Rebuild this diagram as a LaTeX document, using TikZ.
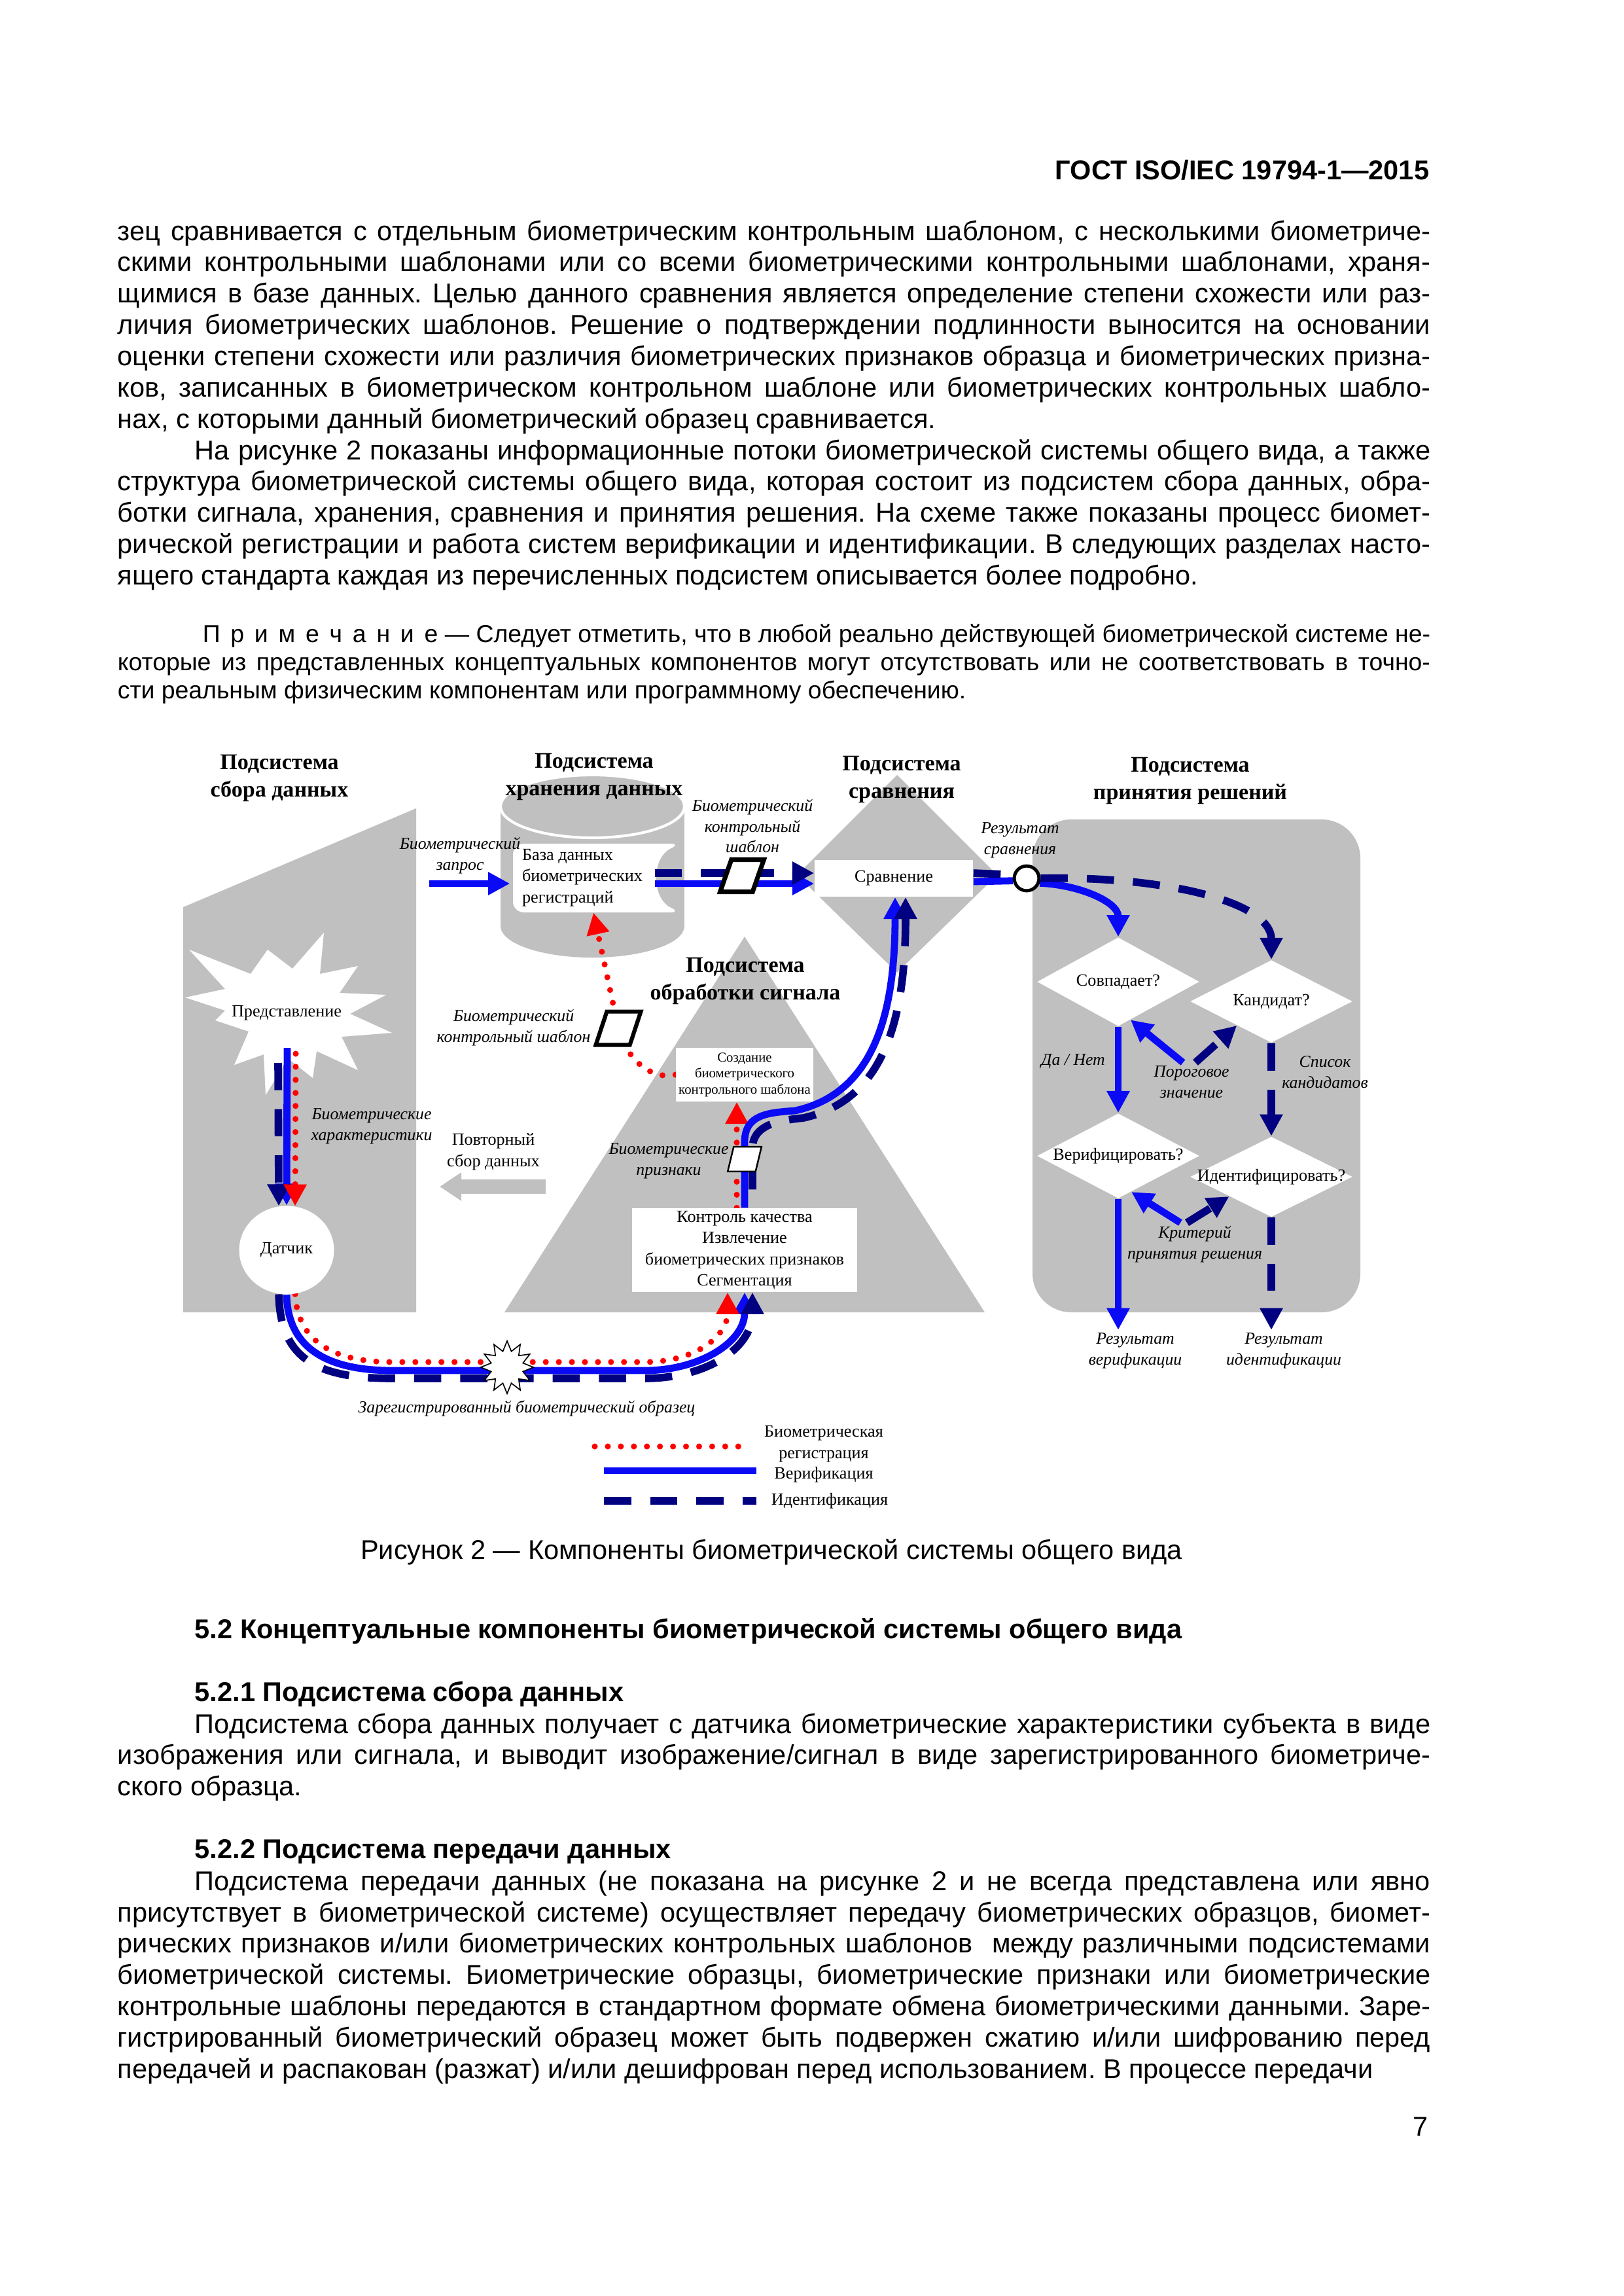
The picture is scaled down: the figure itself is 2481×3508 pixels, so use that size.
\documentclass[tikz,border=0pt]{standalone}
\usepackage{fontspec}
\setmainfont{Liberation Serif}
\newfontfamily\pagefont{Liberation Sans}
\usepackage{xcolor}
\usepackage{tikz}
\usetikzlibrary{positioning,arrows.meta,calc,shapes.geometric}
\definecolor{sysGray}{HTML}{C0C0C0}
\definecolor{verBlue}{HTML}{0A0AF5}
\definecolor{idNavy}{HTML}{000080}
\definecolor{enrRed}{HTML}{FF0000}
\newcommand{\dtitle}{\fontsize{8.2}{10.1}\selectfont\bfseries}
\newcommand{\dtext}{\fontsize{6.3}{7.8}\selectfont}
\newcommand{\dital}{\fontsize{6.2}{7.7}\selectfont\itshape}
\newcommand{\dsmall}{\fontsize{5}{5.9}\selectfont}
\newcommand{\ptext}{\pagefont\fontsize{10}{11.55}\selectfont}
\newcommand{\pnote}{\pagefont\fontsize{9}{10.45}\selectfont}
\frenchspacing
\pgfdeclarelayer{bgArea}
\pgfdeclarelayer{flowLayer}
\pgfsetlayers{bgArea,flowLayer,main}
\tikzset{
  dTitle/.style={font=\dtitle, align=center, inner sep=1pt},
  dLabel/.style={font=\dital, align=center, inner sep=1pt},
  dPlain/.style={font=\dtext, align=center, inner sep=1pt},
  whiteBox/.style={fill=white, font=\dtext, align=center, inner sep=1pt},
  decide/.style={diamond, fill=white, font=\dtext, inner sep=0pt, minimum width=21mm},
  tmplBox/.style={rectangle, draw=black, fill=white, inner sep=0pt, line width=1.7pt, transform shape},
  verFlow/.style={draw=verBlue, line width=2.6pt},
  idFlow/.style={draw=idNavy, line width=2.8pt, dash pattern=on 10pt off 7pt},
  enrFlow/.style={draw=enrRed, line width=2.2pt, line cap=round, dash pattern=on 0pt off 4.8pt},
  flowTip/.style={-{Triangle[length=8pt,width=8pt]}},
  pagePar/.style={anchor=base west, inner sep=0pt, text width=169.8mm, align=justify, font=\ptext},
  pageHead/.style={anchor=base west, inner sep=0pt, font=\ptext\bfseries}
}

\begin{document}
\begin{tikzpicture}[x=0.084644mm, y=-0.084644mm]
\useasboundingbox (0,0) rectangle (2481,3508);

% page text
\node[anchor=base east, inner sep=0pt, font=\ptext\bfseries] (gost) at (2185,274) {ГОСТ ISO/IEC 19794-1—2015};
\node[pagePar] (parA) at (179,367) {зец сравнивается с отдельным биометрическим контрольным шаблоном, с несколькими биометриче-\linebreak
скими контрольными шаблонами или со всеми биометрическими контрольными шаблонами, храня-\linebreak
щимися в базе данных. Целью данного сравнения является определение степени схожести или раз-\linebreak
личия биометрических шаблонов. Решение о подтверждении подлинности выносится на основании\linebreak
оценки степени схожести или различия биометрических признаков образца и биометрических призна-\linebreak
ков, записанных в биометрическом контрольном шаблоне или биометрических контрольных шабло-\linebreak
нах, с которыми данный биометрический образец сравнивается.};
\node[pagePar] (parB) at (179,702) {\hspace*{10mm}На рисунке 2 показаны информационные потоки биометрической системы общего вида, а также\linebreak
структура биометрической системы общего вида, которая состоит из подсистем сбора данных, обра-\linebreak
ботки сигнала, хранения, сравнения и принятия решения. На схеме также показаны процесс биомет-\linebreak
рической регистрации и работа систем верификации и идентификации. В следующих разделах насто-\linebreak
ящего стандарта каждая из перечисленных подсистем описывается более подробно.};
\node[pagePar, font=\pnote] (note) at (179,981) {\hspace*{11mm}П\kern3.8pt р\kern3.8pt и\kern3.8pt м\kern3.8pt е\kern3.8pt ч\kern3.8pt а\kern3.8pt н\kern3.8pt и\kern3.8pt е — Следует отметить, что в любой реально действующей биометрической системе не-\linebreak
которые из представленных концептуальных компонентов могут отсутствовать или не соответствовать в точно-\linebreak
сти реальным физическим компонентам или программному обеспечению.};
\node[anchor=base, inner sep=0pt, font=\ptext] (caption) at (1179,2382) {Рисунок 2 — Компоненты биометрической системы общего вида};
\node[pageHead] (sec52) at (297,2503) {5.2 Концептуальные компоненты биометрической системы общего вида};
\node[pageHead] (sec521) at (297,2599) {5.2.1 Подсистема сбора данных};
\node[pagePar] (parC) at (179,2648) {\hspace*{10mm}Подсистема сбора данных получает с датчика биометрические характеристики субъекта в виде\linebreak
изображения или сигнала, и выводит изображение/сигнал в виде зарегистрированного биометриче-\linebreak
ского образца.};
\node[pageHead] (sec522) at (297,2839) {5.2.2 Подсистема передачи данных};
\node[pagePar] (parD) at (179,2888) {\parfillskip=0pt\hspace*{10mm}Подсистема передачи данных (не показана на рисунке 2 и не всегда представлена или явно\linebreak
присутствует в биометрической системе) осуществляет передачу биометрических образцов, биомет-\linebreak
рических признаков и/или биометрических контрольных шаблонов\ \ между различными подсистемами\linebreak
биометрической системы. Биометрические образцы, биометрические признаки или биометрические\linebreak
контрольные шаблоны передаются в стандартном формате обмена биометрическими данными. Заре-\linebreak
гистрированный биометрический образец может быть подвержен сжатию и/или шифрованию перед\linebreak
передачей и распакован (разжат) и/или дешифрован перед использованием. В процессе передачи};
\node[anchor=base east, inner sep=0pt, font=\ptext] (pageno) at (2183,3263) {7};

% subsystem areas
\begin{pgfonlayer}{bgArea}
\fill[sysGray] (280,1386) -- (636,1235) -- (636,2005) -- (280,2005) -- cycle;
\fill[sysGray] (765,1232) rectangle (1046,1415);
\fill[sysGray] (905.5,1415) ellipse (140.5 and 48);
\filldraw[fill=sysGray, draw=white, line width=1pt] (905.5,1232) ellipse (140.5 and 48);
\fill[white, rounded corners=4pt] (784,1289) -- (1041,1289) .. controls (995,1310) and (995,1373) .. (1041,1394) -- (784,1394) -- cycle;
\fill[sysGray] (1371,1184) -- (1524,1337) -- (1371,1486) -- (1218,1337) -- cycle;
\fill[sysGray] (771,2005) -- (1138,1431) -- (1505,2005) -- cycle;
\fill[sysGray, rounded corners=5mm] (1578,1252) rectangle (2079,2005);
\fill[white, shift={(438,1548)}] (152,-28) -- (97,1) -- (161,30) -- (84,36) -- (109,87) -- (46,58) -- (40,99) -- (2,69) -- (-32,125) -- (-35,63) -- (-80,79) -- (-58,28) -- (-109,11) -- (-94,-4) -- (-155,-24) -- (-94,-37) -- (-149,-97) -- (-55,-60) -- (-29,-97) -- (9,-68) -- (57,-123) -- (51,-60) -- (109,-72) -- (81,-31) -- cycle;
\end{pgfonlayer}

% titles
\node[dTitle] (tAcq) at (427,1189) {Подсистема\\сбора данных};
\node[dTitle] (tSto) at (908,1187) {Подсистема\\хранения данных};
\node[dTitle] (tCmp) at (1378,1191) {Подсистема\\сравнения};
\node[dTitle] (tDec) at (1819,1193) {Подсистема\\принятия решений};
\node[dTitle] (tSig) at (1139,1499) {Подсистема\\обработки сигнала};

% components
\node[dPlain] (pres) at (438,1548) {Представление};
\node[ellipse, fill=white, font=\dtext, minimum width=12.27mm, minimum height=11.43mm, inner sep=0pt] (sensor) at (438,1910) {Датчик};
\node[font=\dtext, align=left, minimum width=18.6mm, minimum height=8.9mm, inner sep=0pt] (db) at (890,1341) {База данных\\биометрических\\регистраций};
\node[whiteBox, minimum width=20.48mm, minimum height=4.74mm] (cmp) at (1366,1342) {Сравнение};
\node[whiteBox, font=\dsmall, minimum width=16.76mm, minimum height=6.94mm] (create) at (1138,1642) {Создание\\биометрического\\контрольного шаблона};
\node[whiteBox, minimum width=29.12mm, minimum height=10.75mm] (qc) at (1138,1910) {Контроль качества\\Извлечение\\биометрических признаков\\Сегментация};
\node[circle, draw=black, line width=1.2pt, fill=white, minimum size=3.2mm, inner sep=0pt] (res) at (1569,1342) {};
\node[decide, minimum height=11.5mm] (match) at (1709,1500) {\makebox[0pt]{Совпадает?}};
\node[decide, minimum height=10.7mm] (cand) at (1943,1530) {\makebox[0pt]{Кандидат?}};
\node[decide, minimum height=11mm] (verify) at (1709,1766) {\makebox[0pt]{Верифицировать?}};
\node[decide, minimum height=10.4mm] (ident) at (1943,1798) {\makebox[0pt]{Идентифицировать?}};
\begin{scope}[shift={(1134,1338)}]
\node[tmplBox, xslant=0.35, minimum width=4.2mm, minimum height=4.15mm] (tmplA) at (0,0) {};
\end{scope}
\begin{scope}[shift={(945,1571)}]
\node[tmplBox, xslant=0.33, line width=1.5pt, minimum width=4.4mm, minimum height=4.3mm] (tmplB) at (0,0) {};
\end{scope}
\begin{scope}[shift={(1138,1771)}]
\node[tmplBox, xslant=0.24, line width=0.6pt, minimum width=3.6mm, minimum height=3.2mm] (feat) at (0,0) {};
\end{scope}
\node[star, star points=12, star point ratio=1.6, draw=black, line width=0.4pt, fill=white, minimum size=6.8mm, inner sep=0pt] (regBurst) at (775,2089) {};

% labels
\node[dLabel] (reqLbl) at (703,1307) {Биометрический\\запрос};
\node[dLabel] (tmplALbl) at (1150,1262) {Биометрический\\контрольный\\шаблон};
\node[dLabel] (resLbl) at (1559,1284) {Результат\\сравнения};
\node[dLabel] (tmplBLbl) at (785,1570) {Биометрический\\контрольный шаблон};
\node[dLabel] (charLbl) at (568,1721) {Биометрические\\характеристики};
\node[dPlain] (retryLbl) at (754,1760) {Повторный\\сбор данных};
\node[dLabel] (featLbl) at (1022,1774) {Биометрические\\признаки};
\node[dLabel] (regLbl) at (805,2152) {Зарегистрированный биометрический образец};
\node[dLabel] (yesNo) at (1640,1622) {Да / Нет};
\node[dLabel] (thr) at (1821,1653) {Пороговое\\значение};
\node[dLabel] (candList) at (2025,1638) {Список\\кандидатов};
\node[dLabel] (crit) at (1826,1901) {Критерий\\принятия решения};
\node[dLabel] (resVer) at (1735,2064) {Результат\\верификации};
\node[dLabel] (resId) at (1962,2064) {Результат\\идентификации};
\node[dPlain] (legEnrLbl) at (1259,2206) {Биометрическая\\регистрация};
\node[dPlain] (legVerLbl) at (1259,2253) {Верификация};
\node[dPlain] (legIdLbl) at (1268,2293) {Идентификация};

\coordinate (reqStart) at (656,1350);
\coordinate (retryFrom) at (834,1813);
\coordinate (retryTo) at (672,1813);
\coordinate (legEnrA) at (909,2210);
\coordinate (legEnrB) at (1144,2210);
\coordinate (legVerA) at (923,2247);
\coordinate (legVerB) at (1156,2247);
\coordinate (legIdA) at (923,2293);
\coordinate (legIdB) at (1156,2293);

\begin{pgfonlayer}{flowLayer}
% acquisition
\draw[verFlow, flowTip] ($(pres)+(1,53)$) -- (sensor.90);
\draw[idFlow, flowTip] ($(pres)+(-13,76)$) -- (sensor.100);
\draw[enrFlow, flowTip] ($(pres)+(14,62)$) -- (sensor.79);
\draw[sysGray, line width=5.3pt, -{Triangle[length=8pt,width=10pt]}] (retryFrom) -- (retryTo);
% captured sample
\draw[verFlow, flowTip] (sensor.south) .. controls (440,2060) and (500,2094) .. (600,2094) -- (985,2094) .. controls (1070,2094) and (1138,2050) .. (qc.south);
\draw[enrFlow, flowTip] (sensor.-79) .. controls (455,2050) and (510,2081) .. (600,2081) -- (985,2081) .. controls (1065,2081) and (1112,2040) .. ($(qc.south)+(-26,0)$);
\draw[idFlow, flowTip] (sensor.-100) .. controls (428,2080) and (490,2106) .. (600,2106) -- (985,2106) .. controls (1080,2106) and (1150,2060) .. ($(qc.south)+(12,0)$);
% enrolment
\draw[enrFlow, flowTip] ($(qc.north)+(-12,0)$) -- ($(create.south)+(-12,0)$);
\draw[enrFlow] (create.west) .. controls (1000,1650) and (960,1625) .. (tmplB.center);
\draw[enrFlow, flowTip] (tmplB.center) -- ($(db.south)+(17,0)$);
% features to comparison
\draw[verFlow, flowTip] (qc.north) -- (1138,1745) .. controls (1138,1702) and (1175,1700) .. (1215,1697) .. controls (1330,1672) and (1368,1560) .. ($(cmp.south)+(2,0)$);
\draw[idFlow, flowTip] ($(qc.north)+(12,-28)$) -- (1150,1755) .. controls (1150,1718) and (1190,1712) .. (1228,1708) .. controls (1345,1682) and (1384,1570) .. ($(cmp.south)+(18,0)$);
% storage
\draw[verFlow, flowTip] (reqStart) -- ($(db.west)+(0,9)$);
\draw[verFlow, flowTip] ($(db.east)+(0,9)$) -- ($(cmp.west)+(0,8)$);
\draw[idFlow, flowTip] ($(db.east)+(0,-7)$) -- ($(cmp.west)+(0,-8)$);
% decision
\draw[verFlow] ($(cmp.east)+(0,5)$) -- (res.190);
\draw[idFlow] ($(cmp.east)+(0,-8)$) -- (res.165);
\draw[verFlow, flowTip] (res.-20) .. controls (1650,1352) and (1709,1378) .. (match.north);
\draw[idFlow, flowTip] (res.east) .. controls (1780,1338) and (1943,1378) .. (cand.north);
\draw[verFlow, flowTip] (match.south) -- (verify.north);
\draw[idFlow, flowTip] (cand.south) -- (ident.north);
\draw[verFlow, flowTip] ($(thr.north)+(-13,0)$) -- (match.-72);
\draw[idFlow, flowTip] ($(thr.north)+(6,0)$) -- (cand.-145);
\draw[verFlow, flowTip] ($(crit.north)+(-22,0)$) -- (verify.-70);
\draw[idFlow, flowTip] ($(crit.north)+(-12,0)$) -- (ident.-155);
\draw[verFlow, flowTip] (verify.south) -- (verify.south |- resVer.north);
\draw[idFlow, flowTip] (ident.south) -- (ident.south |- resId.north);
% legend
\draw[enrFlow] (legEnrA) -- (legEnrB);
\draw[verFlow] (legVerA) -- (legVerB);
\draw[idFlow] (legIdA) -- (legIdB);
\end{pgfonlayer}
\end{tikzpicture}
\end{document}
